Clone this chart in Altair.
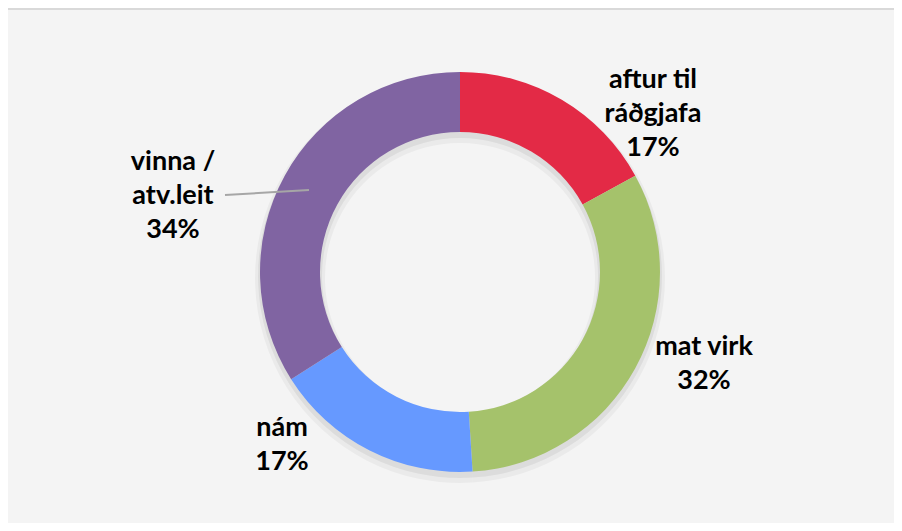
import altair as alt
import pandas as pd

# data
categories = ["aftur til ráðgjafa", "mat virk", "nám", "vinna / atv.leit"]
shares = [17, 32, 17, 34]
label_names = ["aftur til\nráðgjafa", "mat virk", "nám", "vinna /\natv.leit"]
colors = ["#E32A46", "#A5C26B", "#6699FF", "#8064A2"]

# layout (first-line label anchor positions in chart pixels)
label_pos = [(645, 72), (696, 339), (274, 420), (165, 154)]
W, H = 886, 515
CX, CY = 452, 264
R_OUT, R_IN = 200, 140

df = pd.DataFrame({
    "category": categories,
    "share": shares,
    "order": list(range(len(categories))),
    "label": [f"{n}\n{v}%" for n, v in zip(label_names, shares)],
})

base = alt.Chart(df)
theta = alt.Theta("share:Q", stack=True)
order = alt.Order("order:Q")

shadow1 = base.mark_arc(radius=R_OUT + 5, radius2=R_IN - 5, color="black", opacity=0.04).encode(
    theta=theta, order=order, x=alt.value(CX), y=alt.value(CY + 6))
shadow2 = base.mark_arc(radius=R_OUT + 2, radius2=R_IN - 2, color="black", opacity=0.06).encode(
    theta=theta, order=order, x=alt.value(CX), y=alt.value(CY + 4))

donut = base.mark_arc(radius=R_OUT, radius2=R_IN).encode(
    theta=theta,
    order=order,
    color=alt.Color("category:N", scale=alt.Scale(domain=categories, range=colors), legend=None),
    x=alt.value(CX), y=alt.value(CY),
)

texts = []
for cat, (lx, ly) in zip(categories, label_pos):
    texts.append(
        base.transform_filter(alt.datum.category == cat)
        .mark_text(font="Lato", fontWeight="bold", fontSize=27, lineBreak="\n", lineHeight=34,
                   align="center", baseline="middle", color="#000000")
        .encode(text="label:N", x=alt.value(lx), y=alt.value(ly))
    )

leader = base.transform_filter(alt.datum.category == categories[3]).mark_rule(
    color="#A6A6A6", strokeWidth=2).encode(
    x=alt.value(217), y=alt.value(187), x2=alt.value(301), y2=alt.value(182))

border_left = base.transform_filter(alt.datum.order == 0).mark_rule(color="#D9D9D9", strokeWidth=2).encode(
    x=alt.value(-1), y=alt.value(0), y2=alt.value(H))
border_top = base.transform_filter(alt.datum.order == 0).mark_rule(color="#D9D9D9", strokeWidth=2).encode(
    x=alt.value(-1), x2=alt.value(W), y=alt.value(1))

chart = alt.layer(shadow1, shadow2, donut, leader, *texts, border_left, border_top).properties(
    width=W, height=H, padding=0, autosize=alt.AutoSizeParams(type="none"), background="#FFFFFF"
).configure_view(stroke=None, fill="#F4F4F4")

chart.save("out.html", embed_options={"renderer": "svg", "actions": False})
